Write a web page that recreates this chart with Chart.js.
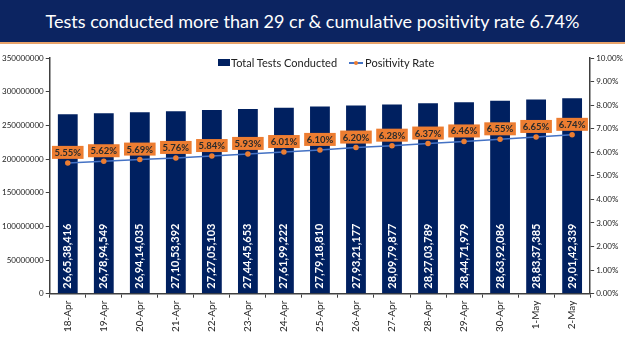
<!DOCTYPE html>
<html>
<head>
<meta charset="utf-8">
<script src="https://cdn.jsdelivr.net/npm/chart.js@4"></script>
<style>
  body { margin: 0; width: 625px; height: 351px; background: #fff; overflow: hidden; font-family: Lato, "Open Sans", sans-serif; }
  #title { height: 42px; background: #0c2461; color: #fff; font-size: 18px; line-height: 42px; text-align: center; border-bottom: 2px solid #e8a36a; }
  #wrap { position: relative; width: 625px; height: 307px; }
  #legend { position: absolute; top: 12px; left: 218px; font-size: 11px; color: #222; display: flex; align-items: center; white-space: nowrap; }
  .sq { display: inline-block; width: 12px; height: 7px; background: #002060; margin-right: 1px; }
  .ln { display: inline-block; position: relative; width: 14px; height: 2px; background: #4472c4; margin: 0 2px 0 12px; }
  .ln i { position: absolute; left: 5px; top: -1px; width: 4px; height: 4px; border-radius: 2px; background: #ed7d31; }
</style>
</head>
<body>
<div id="title">Tests conducted more than 29 cr &amp; cumulative positivity rate 6.74%</div>
<div id="wrap">
  <canvas id="chart" width="625" height="307"></canvas>
  <div id="legend"><span class="sq"></span>Total Tests Conducted<span class="ln"><i></i></span>Positivity Rate</div>
</div>
<script>
// data
const dates = ['18-Apr', '19-Apr', '20-Apr', '21-Apr', '22-Apr', '23-Apr', '24-Apr', '25-Apr',
  '26-Apr', '27-Apr', '28-Apr', '29-Apr', '30-Apr', '1-May', '2-May'];
const totalTests = [266538416, 267894549, 269414035, 271053392, 272705103, 274445653, 276199222, 277918810,
  279321177, 280979877, 282703789, 284471979, 286392086, 288337385, 290142339];
const positivity = [5.55, 5.62, 5.69, 5.76, 5.84, 5.93, 6.01, 6.10, 6.20, 6.28, 6.37, 6.46, 6.55, 6.65, 6.74];

// 26,65,38,416 style
function indian(n) {
  let s = String(n);
  let last3 = s.slice(-3);
  let rest = s.slice(0, -3);
  if (rest.length) last3 = ',' + last3;
  rest = rest.replace(/\B(?=(\d{2})+(?!\d))/g, ',');
  return rest + last3;
}

const labelsPlugin = {
  id: 'valueLabels',
  afterDatasetsDraw(chart) {
    const ctx = chart.ctx;
    const bars = chart.getDatasetMeta(0).data;
    const pts = chart.getDatasetMeta(1).data;
    const bottom = chart.scales.y.bottom;
    ctx.save();
    ctx.font = 'bold 11px Lato';
    ctx.fillStyle = '#fff';
    ctx.textBaseline = 'middle';
    ctx.textAlign = 'left';
    bars.forEach((b, i) => {
      ctx.save();
      ctx.translate(b.x, bottom - 5);
      ctx.rotate(-Math.PI / 2);
      ctx.fillText(indian(totalTests[i]), 0, 0);
      ctx.restore();
    });
    ctx.font = 'bold 9.5px Lato';
    ctx.textAlign = 'center';
    pts.forEach((p, i) => {
      const txt = positivity[i].toFixed(2) + '%';
      const w = ctx.measureText(txt).width + 5;
      const cy = p.y - 10;
      ctx.fillStyle = '#ed7d31';
      ctx.fillRect(p.x - w / 2, cy - 7, w, 13);
      ctx.fillStyle = '#2b2b2b';
      ctx.fillText(txt, p.x, cy);
    });
    ctx.restore();
  }
};

new Chart(document.getElementById('chart').getContext('2d'), {
  data: {
    labels: dates,
    datasets: [{
      type: 'bar',
      label: 'Total Tests Conducted',
      data: totalTests,
      backgroundColor: '#002060',
      yAxisID: 'y',
      order: 2,
      categoryPercentage: 0.55,
      barPercentage: 1
    }, {
      type: 'line',
      label: 'Positivity Rate',
      data: positivity,
      borderColor: '#4472c4',
      borderWidth: 1.5,
      pointRadius: 2,
      pointBackgroundColor: '#ed7d31',
      pointBorderColor: '#ed7d31',
      yAxisID: 'y1',
      order: 1
    }]
  },
  options: {
    responsive: false,
    animation: false,
    layout: { padding: { top: 14, left: 0, right: 0, bottom: 16 } },
    plugins: { legend: { display: false }, tooltip: { enabled: false } },
    scales: {
      x: {
        grid: { display: true, offset: true, drawOnChartArea: false, drawTicks: true, tickLength: 4, color: '#404040' },
        border: { color: '#404040', width: 1.5 },
        ticks: { minRotation: 90, maxRotation: 90, color: '#222', font: { size: 10, family: 'Lato' }, padding: 3 }
      },
      y: {
        min: 0, max: 350000000,
        ticks: { stepSize: 50000000, color: '#222', font: { size: 8, family: 'Lato' }, callback: v => String(v), padding: 2 },
        grid: { drawOnChartArea: false, tickLength: 4, color: '#404040' },
        border: { color: '#404040', width: 1.5 }
      },
      y1: {
        position: 'right',
        min: 0, max: 10,
        ticks: { stepSize: 1, color: '#222', font: { size: 8, family: 'Lato' }, callback: v => v.toFixed(2) + '%', padding: 2 },
        grid: { drawOnChartArea: false, tickLength: 4, color: '#404040' },
        border: { color: '#404040', width: 1.5 }
      }
    }
  },
  plugins: [labelsPlugin]
});
</script>
</body>
</html>
